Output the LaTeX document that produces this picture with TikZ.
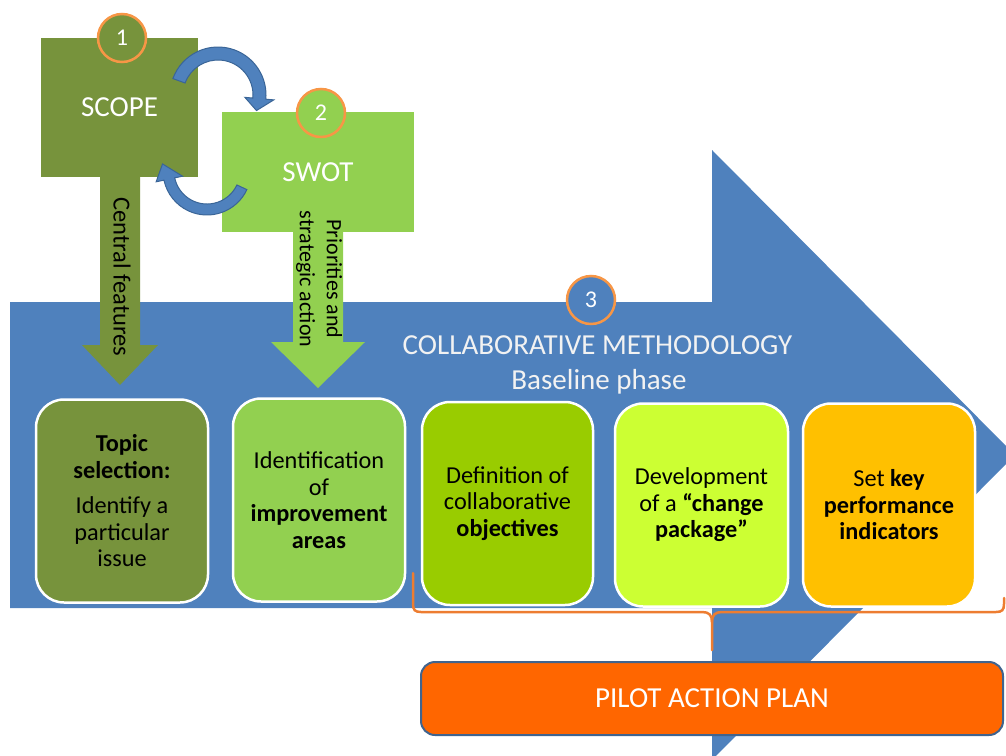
\documentclass[tikz,border=0pt]{standalone}
\usepackage{fontspec}
\setmainfont{Carlito}
\usetikzlibrary{calc}
\definecolor{cBlue}{HTML}{4F81BD}
\definecolor{cBlueDark}{HTML}{3A6597}
\definecolor{cOlive}{HTML}{77933C}
\definecolor{cSwot}{HTML}{92D050}
\definecolor{cLime}{HTML}{99CC00}
\definecolor{cYell}{HTML}{CCFF33}
\definecolor{cGold}{HTML}{FFC000}
\definecolor{cCircle}{HTML}{F79646}
\definecolor{cBrace}{HTML}{ED7D31}
\definecolor{cPilot}{HTML}{FF6600}
\definecolor{cPilotEdge}{HTML}{41648E}
\definecolor{cHead}{HTML}{F2F2F2}
\begin{document}
\begin{tikzpicture}[x=1pt,y=-1pt,
  stepbox/.style={draw=white, line width=2.5pt, rounded corners=28pt,
    minimum width=172pt, minimum height=203pt, align=center,
    inner sep=0pt, font=\fontsize{24.3}{26.5}\selectfont},
  topbox/.style={inner sep=0pt, text=white, font=\fontsize{29}{32}\selectfont},
  numcirc/.style={circle, fill=#1, draw=cCircle, line width=2.5pt,
    minimum size=48pt, inner sep=0pt, text=white, font=\fontsize{24}{26}\selectfont},
  headtxt/.style={text=cHead, inner sep=0pt, font=\fontsize{29}{32}\selectfont},
  sidetxt/.style={rotate=-90, inner sep=0pt, align=center, text=black},
  curvarrow/.style={fill=cBlue, draw=cBlueDark, line width=1pt},
  brace/.style={draw=cBrace, line width=2.5pt, line cap=round}
]
\useasboundingbox (0,0) rectangle (1006,755);
\clip (0,0) rectangle (1006,755);

% big blue arrow
\fill[cBlue] (10,302) -- (712,302) -- (712,150) -- (1015,455) -- (712,760)
  -- (712,608) -- (10,608) -- cycle;

% top boxes
\node[topbox, fill=cOlive, minimum width=157pt, minimum height=139pt] (scope) at (119.5,107.5) {SCOPE};
\node[topbox, fill=cSwot, minimum width=192pt, minimum height=120pt] (swot) at (318,172) {SWOT};

% green arrows
\coordinate (tip1) at (120,385);
\coordinate (tip2) at (318,388);
\fill[cOlive] ($(scope.south)+(-19.5,0)$) -- (100,345) -- (82,345) -- (tip1)
  -- (158,345) -- (140,345) -- ($(scope.south)+(20.5,0)$) -- cycle;
\fill[cSwot] ($(swot.south)+(-25,0)$) -- (293,342) -- (271,342) -- (tip2)
  -- (365,342) -- (343,342) -- ($(swot.south)+(25,0)$) -- cycle;

\node[sidetxt, font=\fontsize{24.5}{26}\selectfont] (cf) at (122,277) {Central features};
\node[sidetxt, font=\fontsize{22}{27}\selectfont] (pa) at (319,279) {Priorities and\\strategic action};

% curved block arrows
\coordinate (C1) at (218,95);
\coordinate (C2) at (207,171);
\path[curvarrow] ($(C1)+(200:48)$) arc[start angle=200, end angle=365, radius=48]
  -- ($(C1)+(5:56)$) -- ($(C1)+(22:41.5)$) -- ($(C1)+(5:27)$)
  -- ($(C1)+(5:35)$) arc[start angle=365, end angle=200, radius=35] -- cycle;
\path[curvarrow] ($(C2)+(25:44)$) arc[start angle=25, end angle=168, radius=44]
  -- ($(C2)+(168:52)$) -- ($(C2)+(189:45)$) -- ($(C2)+(168:25)$)
  -- ($(C2)+(168:33)$) arc[start angle=168, end angle=25, radius=33] -- cycle;

% number circles
\node[numcirc=cOlive] (n1) at (122,38) {1};
\node[numcirc=cSwot] (n2) at (321,113) {2};
\node[numcirc=cBlue] (n3) at (591,300) {3};

% headings
\node[headtxt] (title) at (597.5,345) {COLLABORATIVE METHODOLOGY};
\node[headtxt, anchor=base] (phase) at (599,389) {Baseline phase};

% step boxes
\node[stepbox, fill=cOlive] (b1) at (122,501)
  {\textbf{Topic}\\\textbf{selection:}\\[9pt]Identify a\\particular\\issue};
\node[stepbox, fill=cSwot] (b2) at (319,500)
  {Identification\\of\\\textbf{improvement}\\\textbf{areas}};
\node[stepbox, fill=cLime, minimum width=171pt] (b3) at (507.5,503.5)
  {Definition of\\collaborative\\\textbf{objectives}};
\node[stepbox, fill=cYell, minimum width=173pt] (b4) at (701.5,505)
  {Development\\of a \textbf{“change}\\\textbf{package”}};
\node[stepbox, fill=cGold] (b5) at (889,505)
  {Set \textbf{key}\\\textbf{performance}\\\textbf{indicators}};

% brace
\coordinate (bl) at (413,573);
\coordinate (bm) at (712,650);
\coordinate (br) at (1004,598);
\draw[brace] (bl) -- (413,604) .. controls (413,610) and (415,612) .. (421,612)
  -- (702,612) .. controls (709,612) and (712,615) .. (712,622) -- (bm);
\draw[brace] (br) -- (1004,604) .. controls (1004,610) and (1002,612) .. (996,612)
  -- (722,612) .. controls (715,612) and (712,615) .. (712,622);

% pilot action plan
\node[draw=cPilotEdge, fill=cPilot, line width=2pt, rounded corners=14pt,
  minimum width=582pt, minimum height=73pt, inner sep=0pt, text=white,
  font=\fontsize{29}{32}\selectfont] (pilot) at (712,698.5) {PILOT ACTION PLAN};
\end{tikzpicture}
\end{document}
